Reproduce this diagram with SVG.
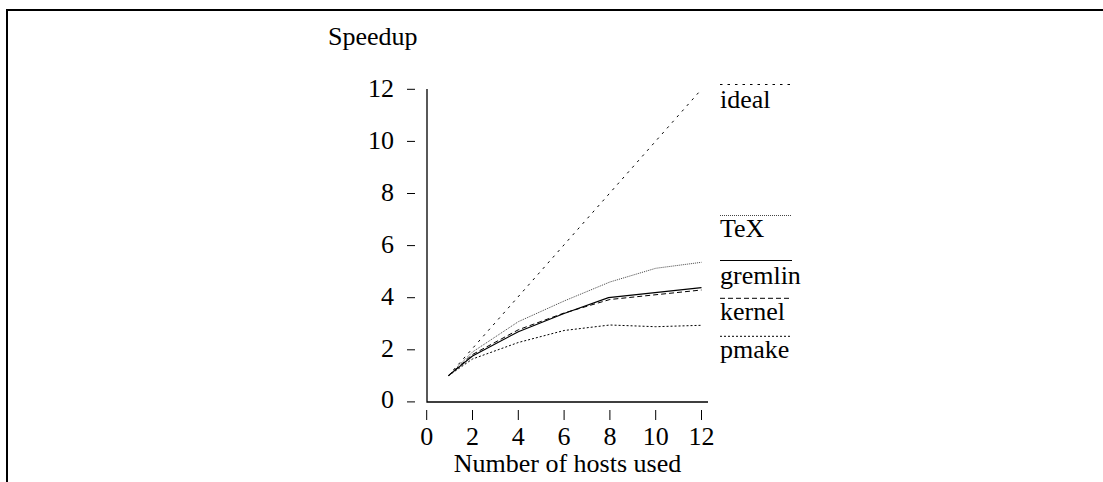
<svg xmlns="http://www.w3.org/2000/svg" width="1103" height="482" viewBox="0 0 1103 482">
<style>
text{font-family:'Liberation Serif','Tinos','DejaVu Serif',serif;font-size:26px;fill:#000}
.ax{stroke:#000;stroke-width:1.3;fill:none}
.tk{stroke:#000;stroke-width:1;fill:none}
.ideal{stroke:#000;stroke-width:1;fill:none;stroke-dasharray:2.5 5}
.tex{stroke:#444;stroke-width:1;fill:none;stroke-dasharray:1 1}
.gremlin{stroke:#000;stroke-width:1.2;fill:none}
.kernel{stroke:#000;stroke-width:1;fill:none;stroke-dasharray:5 3}
.pmake{stroke:#000;stroke-width:1;fill:none;stroke-dasharray:2 2}
.ylab{text-anchor:end}
.xlab{text-anchor:middle}
</style>
<path d="M7,482 V10 H1103" stroke="#000" stroke-width="2" fill="none"/>
<g id="axes" font-family="Liberation Serif, DejaVu Serif, serif">
<path class="ax" d="M427,89 V402 H708"/>
<g class="tk">
<path d="M407,89.3 H415 M407,141.4 H415 M407,193.5 H415 M407,245.6 H415 M407,297.7 H415 M407,349.8 H415 M407,401.9 H415"/>
<path d="M426.7,410 V420 M472.5,410 V420 M518.3,410 V420 M564.1,410 V420 M609.9,410 V420 M655.7,410 V420 M701.5,410 V420"/>
</g>
<text x="328" y="45">Speedup</text>
<text class="ylab" x="394" y="96.5">12</text>
<text class="ylab" x="394" y="148.5">10</text>
<text class="ylab" x="394" y="200.5">8</text>
<text class="ylab" x="394" y="252.5">6</text>
<text class="ylab" x="394" y="304.5">4</text>
<text class="ylab" x="394" y="356.5">2</text>
<text class="ylab" x="394" y="408">0</text>
<text class="xlab" x="426.7" y="445">0</text>
<text class="xlab" x="472.5" y="445">2</text>
<text class="xlab" x="518.3" y="445">4</text>
<text class="xlab" x="564.1" y="445">6</text>
<text class="xlab" x="609.9" y="445">8</text>
<text class="xlab" x="655.7" y="445">10</text>
<text class="xlab" x="701.5" y="445">12</text>
<text class="xlab" x="567.5" y="472">Number of hosts used</text>
</g>
<g id="connectors">
<path class="ideal" d="M448.5,375.6 L701.5,89.3"/>
<path class="tex" d="M448.5,375.6 L472.5,352 L518.3,321.7 L564.1,301 L609.9,282 L655.7,268.3 L701.5,262.3"/>
<path class="gremlin" d="M448.5,375.6 L472.5,356 L518.3,331.7 L564.1,313.5 L608.5,297.7 L701.5,287.7"/>
<path class="kernel" d="M448.5,375.6 L472.5,354.5 L518.3,329.8 L564.1,313 L609.9,299.5 L701.5,290"/>
<path class="pmake" d="M448.5,375.6 L472.5,359 L518.3,342.5 L564.1,330.5 L609.9,325 L655.7,326.7 L701.5,325.3"/>
</g>
<g id="legend-ideal">
<path class="ideal" d="M720,84.5 H791"/>
<text x="720" y="107.5">ideal</text>
</g>
<g id="legend-tex">
<path class="tex" d="M720,215.5 H791"/>
<text x="720" y="236.5">TeX</text>
</g>
<g id="legend-gremlin">
<path class="gremlin" d="M720,260.5 H792"/>
<text x="720" y="283.5">gremlin</text>
</g>
<g id="legend-kernel">
<path class="kernel" d="M720,298.3 H791"/>
<text x="720" y="320">kernel</text>
</g>
<g id="legend-pmake">
<path class="pmake" d="M720,336.3 H792"/>
<text x="720" y="357.5">pmake</text>
</g>
</svg>
